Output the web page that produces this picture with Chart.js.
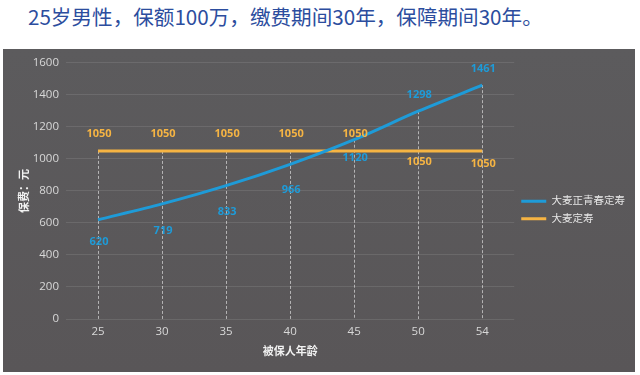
<!DOCTYPE html>
<html>
<head>
<meta charset="utf-8">
<script src="https://cdn.jsdelivr.net/npm/chart.js@4.4.1/dist/chart.umd.min.js"></script>
<style>
  html, body { margin: 0; padding: 0; background: #fff; width: 640px; height: 375px; overflow: hidden; }
  #title {
    position: absolute; left: 28px; top: 4px;
    font: 20.6px/24px "Noto Sans CJK SC", sans-serif;
    color: #2c4d9e; white-space: nowrap;
  }
  #panel {
    position: absolute; left: 3px; top: 49px; width: 632px; height: 323px;
    background: linear-gradient(#5c5b5d, #595658);
  }
</style>
</head>
<body>
<div id="title">25岁男性，保额100万，缴费期间30年，保障期间30年。</div>
<div id="panel"><canvas id="chart" width="632" height="323"></canvas></div>
<script>
// --- data ---
const ages = ['25', '30', '35', '40', '45', '50', '54'];
const youthTerm = [620, 719, 833, 966, 1120, 1298, 1461];   // 大麦正青春定寿
const termLife = [1050, 1050, 1050, 1050, 1050, 1050, 1050]; // 大麦定寿
const seriesNames = ['大麦正青春定寿', '大麦定寿'];
const yMin = 0, yMax = 1600, yStep = 200;

// label placement (px from the point, negative = above)
const youthLabelDy = [22, 27, 26, 25, 18, -16, -16];
const termLabelDy = [-17, -17, -17, -17, -17, 11, 13];

const BLUE = '#1e9bd8';
const ORANGE = '#f6b443';
const FONT = "'Open Sans', 'Noto Sans CJK SC', sans-serif";

// dashed drop lines from the highest point down to zero
const dropLines = {
  id: 'dropLines',
  beforeDatasetsDraw(chart) {
    const { ctx, scales: { x, y } } = chart;
    const metas = chart.data.datasets.map((d, i) => chart.getDatasetMeta(i));
    ctx.save();
    ctx.strokeStyle = 'rgba(255,255,255,0.55)';
    ctx.lineWidth = 1;
    ctx.setLineDash([3, 2]);
    ages.forEach((a, i) => {
      const top = Math.min(...metas.map(m => m.data[i].y));
      const px = Math.round(x.getPixelForValue(i)) + 0.5;
      ctx.beginPath();
      ctx.moveTo(px, top);
      ctx.lineTo(px, y.getPixelForValue(0));
      ctx.stroke();
    });
    ctx.restore();
  }
};

// value labels next to each point
const valueLabels = {
  id: 'valueLabels',
  afterDatasetsDraw(chart) {
    const { ctx } = chart;
    const offsets = [youthLabelDy, termLabelDy];
    ctx.save();
    ctx.font = 'bold 11px ' + FONT;
    ctx.textAlign = 'center';
    ctx.textBaseline = 'middle';
    chart.data.datasets.forEach((ds, di) => {
      const meta = chart.getDatasetMeta(di);
      ctx.fillStyle = ds.borderColor;
      meta.data.forEach((pt, i) => {
        ctx.fillText(String(ds.data[i]), pt.x + 1, pt.y + offsets[di][i]);
      });
    });
    ctx.restore();
  }
};

new Chart(document.getElementById('chart'), {
  type: 'line',
  data: {
    labels: ages,
    datasets: [
      {
        label: seriesNames[0],
        data: youthTerm,
        borderColor: BLUE,
        backgroundColor: BLUE,
        borderWidth: 3,
        pointRadius: 0,
        tension: 0.3
      },
      {
        label: seriesNames[1],
        data: termLife,
        borderColor: ORANGE,
        backgroundColor: ORANGE,
        borderWidth: 3,
        pointRadius: 0
      }
    ]
  },
  options: {
    responsive: false,
    animation: false,
    layout: { padding: { left: 10, top: 13, right: 0, bottom: 14 } },
    plugins: {
      legend: {
        position: 'right',
        maxWidth: 122,
        labels: {
          usePointStyle: true,
          pointStyle: 'line',
          pointStyleWidth: 25,
          boxHeight: 11,
          padding: 7,
          color: '#e6e6e6',
          font: { size: 10.5, family: FONT }
        }
      },
      tooltip: { enabled: false }
    },
    scales: {
      x: {
        offset: true,
        grid: { display: false, drawTicks: false },
        border: { display: false },
        ticks: { color: '#d8d8d8', padding: 6, font: { size: 11.5, family: FONT } },
        title: {
          display: true,
          text: '被保人年龄',
          color: '#f2f2f2',
          font: { size: 11, weight: 'bold', family: FONT },
          padding: { top: 0, bottom: 0 }
        }
      },
      y: {
        min: yMin,
        max: yMax,
        ticks: {
          stepSize: yStep,
          color: '#d8d8d8',
          padding: 7,
          font: { size: 11.5, family: FONT },
          callback: (v) => String(v)
        },
        grid: { color: 'rgba(255,255,255,0.1)', drawTicks: false },
        border: { display: false },
        afterFit(scale) { scale.width = 53; },
        title: {
          display: true,
          text: '保费：元',
          color: '#f2f2f2',
          font: { size: 11, weight: 'bold', family: FONT },
          padding: { top: 5, bottom: 0 }
        }
      }
    }
  },
  plugins: [dropLines, valueLabels]
});
</script>
</body>
</html>
